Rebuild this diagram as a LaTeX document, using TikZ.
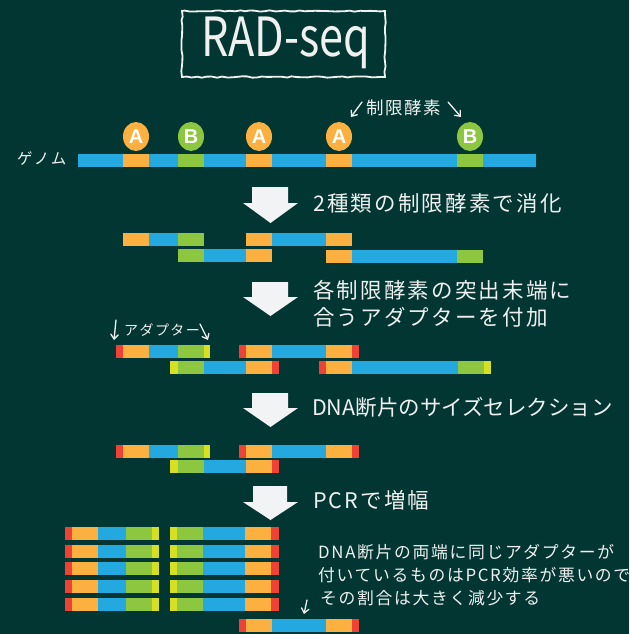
\documentclass[tikz,border=0pt]{standalone}
\usepackage{fontspec}
\usetikzlibrary{arrows.meta,decorations.pathmorphing,shapes.geometric}
\newfontfamily\jp[LetterSpace=10]{Noto Sans CJK JP}
\newfontfamily\jpn{Noto Sans CJK JP}
\newfontfamily\lab{Liberation Sans}
\definecolor{bgc}{RGB}{2,54,50}
\definecolor{cblue}{RGB}{35,169,224}
\definecolor{corange}{RGB}{251,176,64}
\definecolor{cgreen}{RGB}{141,198,63}
\definecolor{cred}{RGB}{239,65,54}
\definecolor{cyel}{RGB}{215,223,35}
\definecolor{carrow}{RGB}{242,243,245}
\definecolor{ctext}{RGB}{240,240,240}
\newcommand\mysg[5]{\fill[#1] (#2,#4) rectangle (#3,#5);}
\tikzset{
  steptext/.style={anchor=west,inner sep=0pt,text=ctext,font=\jp\fontsize{21.5}{26}\selectfont},
  smalltext/.style={anchor=west,inner sep=0pt,text=ctext},
  notetext/.style={anchor=west,inner sep=0pt,text=ctext,font=\jp\fontsize{16.8}{20}\selectfont},
  enz/.style={ellipse,minimum width=26pt,minimum height=29pt,inner sep=0pt,text=white,font=\lab\bfseries\fontsize{20}{20}\selectfont},
  bigarrow/.style={fill=carrow},
  hand/.style={draw=ctext,line width=1.3pt,line cap=round,-{Straight Barb[length=4.5pt,width=7.5pt,line cap=round]}}
}
\begin{document}
\begin{tikzpicture}[x=1pt,y=-1pt]
\fill[bgc] (0,0) rectangle (629,634);
\useasboundingbox (0,0) rectangle (629,634);
% title
\draw[ctext,line width=1.8pt,decorate,decoration={random steps,segment length=5pt,amplitude=0.7pt}] (182,11) rectangle (385,77);
\node[inner sep=0pt,text=ctext,font=\jpn\fontsize{54}{54}\selectfont,xscale=0.8] (title) at (286,43) {RAD-seq};
% genome
\node[smalltext,font=\jp\fontsize{15.5}{20}\selectfont] (genome) at (17,159) {ゲノム};
\mysg{cblue}{78}{123}{154}{167}
\mysg{corange}{123}{149}{154}{167}
\mysg{cblue}{149}{178}{154}{167}
\mysg{cgreen}{178}{204}{154}{167}
\mysg{cblue}{204}{246}{154}{167}
\mysg{corange}{246}{272}{154}{167}
\mysg{cblue}{272}{326}{154}{167}
\mysg{corange}{326}{352}{154}{167}
\mysg{cblue}{352}{457}{154}{167}
\mysg{cgreen}{457}{483}{154}{167}
\mysg{cblue}{483}{536}{154}{167}
\node[enz,fill=corange] (a1) at (136,136.5) {A};
\node[enz,fill=cgreen] (b1) at (191,136.5) {B};
\node[enz,fill=corange] (a2) at (259,136.5) {A};
\node[enz,fill=corange] (a3) at (339,136.5) {A};
\node[enz,fill=cgreen] (b2) at (470,136.5) {B};
\node[smalltext,font=\jp\fontsize{17.5}{20}\selectfont] (enzlab) at (366,108) {制限酵素};
\coordinate (e1s) at (362,102); \coordinate (e1e) at (351,117);
\coordinate (e2s) at (448,102); \coordinate (e2e) at (461,117);
\draw[hand] (e1s) -- (e1e);
\draw[hand] (e2s) -- (e2e);
% arrow 1
\fill[bigarrow] (252,187) -- (288,187) -- (288,203) -- (298,203) -- (270.5,223) -- (243,203) -- (252,203) -- cycle;
\node[steptext] (s1) at (313,203) {2種類の制限酵素で消化};
% digested
\mysg{corange}{123}{149}{233}{246}
\mysg{cblue}{149}{178}{233}{246}
\mysg{cgreen}{178}{204}{233}{246}
\mysg{corange}{246}{272}{233}{246}
\mysg{cblue}{272}{326}{233}{246}
\mysg{corange}{326}{352}{233}{246}
\mysg{cgreen}{178}{204}{249}{262}
\mysg{cblue}{204}{246}{249}{262}
\mysg{corange}{246}{272}{249}{262}
\mysg{corange}{326}{352}{250}{263}
\mysg{cblue}{352}{457}{250}{263}
\mysg{cgreen}{457}{483}{250}{263}
% arrow 2
\fill[bigarrow] (252,282) -- (288,282) -- (288,297) -- (298,297) -- (270.5,316) -- (243,297) -- (252,297) -- cycle;
\node[steptext] (s2a) at (313,290) {各制限酵素の突出末端に};
\node[steptext] (s2b) at (313,317) {合うアダプターを付加};
\node[smalltext,font=\jp\fontsize{14}{16}\selectfont] (adlab) at (124,330) {アダプター};
\coordinate (d1s) at (116,320); \coordinate (d1e) at (114,340);
\coordinate (d2s) at (200,324); \coordinate (d2e) at (208,340);
\draw[hand] (d1s) -- (d1e);
\draw[hand] (d2s) -- (d2e);
% adapters
\mysg{cred}{116}{123}{345}{358}
\mysg{corange}{123}{149}{345}{358}
\mysg{cblue}{149}{178}{345}{358}
\mysg{cgreen}{178}{204}{345}{358}
\mysg{cyel}{204}{210}{345}{358}
\mysg{cred}{239}{246}{345}{358}
\mysg{corange}{246}{272}{345}{358}
\mysg{cblue}{272}{326}{345}{358}
\mysg{corange}{326}{352}{345}{358}
\mysg{cred}{352}{359}{345}{358}
\mysg{cyel}{170}{178}{361}{374}
\mysg{cgreen}{178}{204}{361}{374}
\mysg{cblue}{204}{246}{361}{374}
\mysg{corange}{246}{272}{361}{374}
\mysg{cred}{272}{279}{361}{374}
\mysg{cred}{319}{326}{361}{374}
\mysg{corange}{326}{352}{361}{374}
\mysg{cblue}{352}{458}{361}{374}
\mysg{cgreen}{458}{484}{361}{374}
\mysg{cyel}{484}{491}{361}{374}
% arrow 3
\fill[bigarrow] (252,393) -- (288,393) -- (288,408) -- (298,408) -- (270.5,427) -- (243,408) -- (252,408) -- cycle;
\node[steptext,font=\jpn\fontsize{21.5}{26}\selectfont] (s3) at (312,407) {DNA断片のサイズセレクション};
% size selection
\mysg{cred}{116}{123}{445}{458}
\mysg{corange}{123}{149}{445}{458}
\mysg{cblue}{149}{178}{445}{458}
\mysg{cgreen}{178}{204}{445}{458}
\mysg{cyel}{204}{210}{445}{458}
\mysg{cred}{239}{246}{445}{458}
\mysg{corange}{246}{272}{445}{458}
\mysg{cblue}{272}{326}{445}{458}
\mysg{corange}{326}{352}{445}{458}
\mysg{cred}{352}{359}{445}{458}
\mysg{cyel}{170}{178}{460}{473}
\mysg{cgreen}{178}{204}{460}{473}
\mysg{cblue}{204}{246}{460}{473}
\mysg{corange}{246}{272}{460}{473}
\mysg{cred}{272}{279}{460}{473}
% arrow 4
\fill[bigarrow] (253,486) -- (287,486) -- (287,502) -- (298,502) -- (270.5,520) -- (243,502) -- (253,502) -- cycle;
\node[steptext] (s4) at (313,500) {PCRで増幅};
% PCR products
\foreach \y in {527,545,562,579.5,597.5}{
  \mysg{cred}{65}{72}{\y}{\y+13}
  \mysg{corange}{72}{98}{\y}{\y+13}
  \mysg{cblue}{98}{126}{\y}{\y+13}
  \mysg{cgreen}{126}{152}{\y}{\y+13}
  \mysg{cyel}{152}{159}{\y}{\y+13}
  \mysg{cyel}{170}{177}{\y}{\y+13}
  \mysg{cgreen}{177}{203}{\y}{\y+13}
  \mysg{cblue}{203}{245}{\y}{\y+13}
  \mysg{corange}{245}{271}{\y}{\y+13}
  \mysg{cred}{271}{279}{\y}{\y+13}
}
\node[notetext] (n1) at (318,552) {DNA断片の両端に同じアダプターが};
\node[notetext] (n2) at (318,575) {付いているものはPCR効率が悪いので};
\node[notetext] (n3) at (320,598) {その割合は大きく減少する};
\coordinate (f1s) at (307,600); \coordinate (f1e) at (304,614);
\draw[hand] (f1s) -- (f1e);
\mysg{cred}{239}{246}{619}{632}
\mysg{corange}{246}{272}{619}{632}
\mysg{cblue}{272}{326}{619}{632}
\mysg{corange}{326}{352}{619}{632}
\mysg{cred}{352}{359}{619}{632}
\end{tikzpicture}
\end{document}
